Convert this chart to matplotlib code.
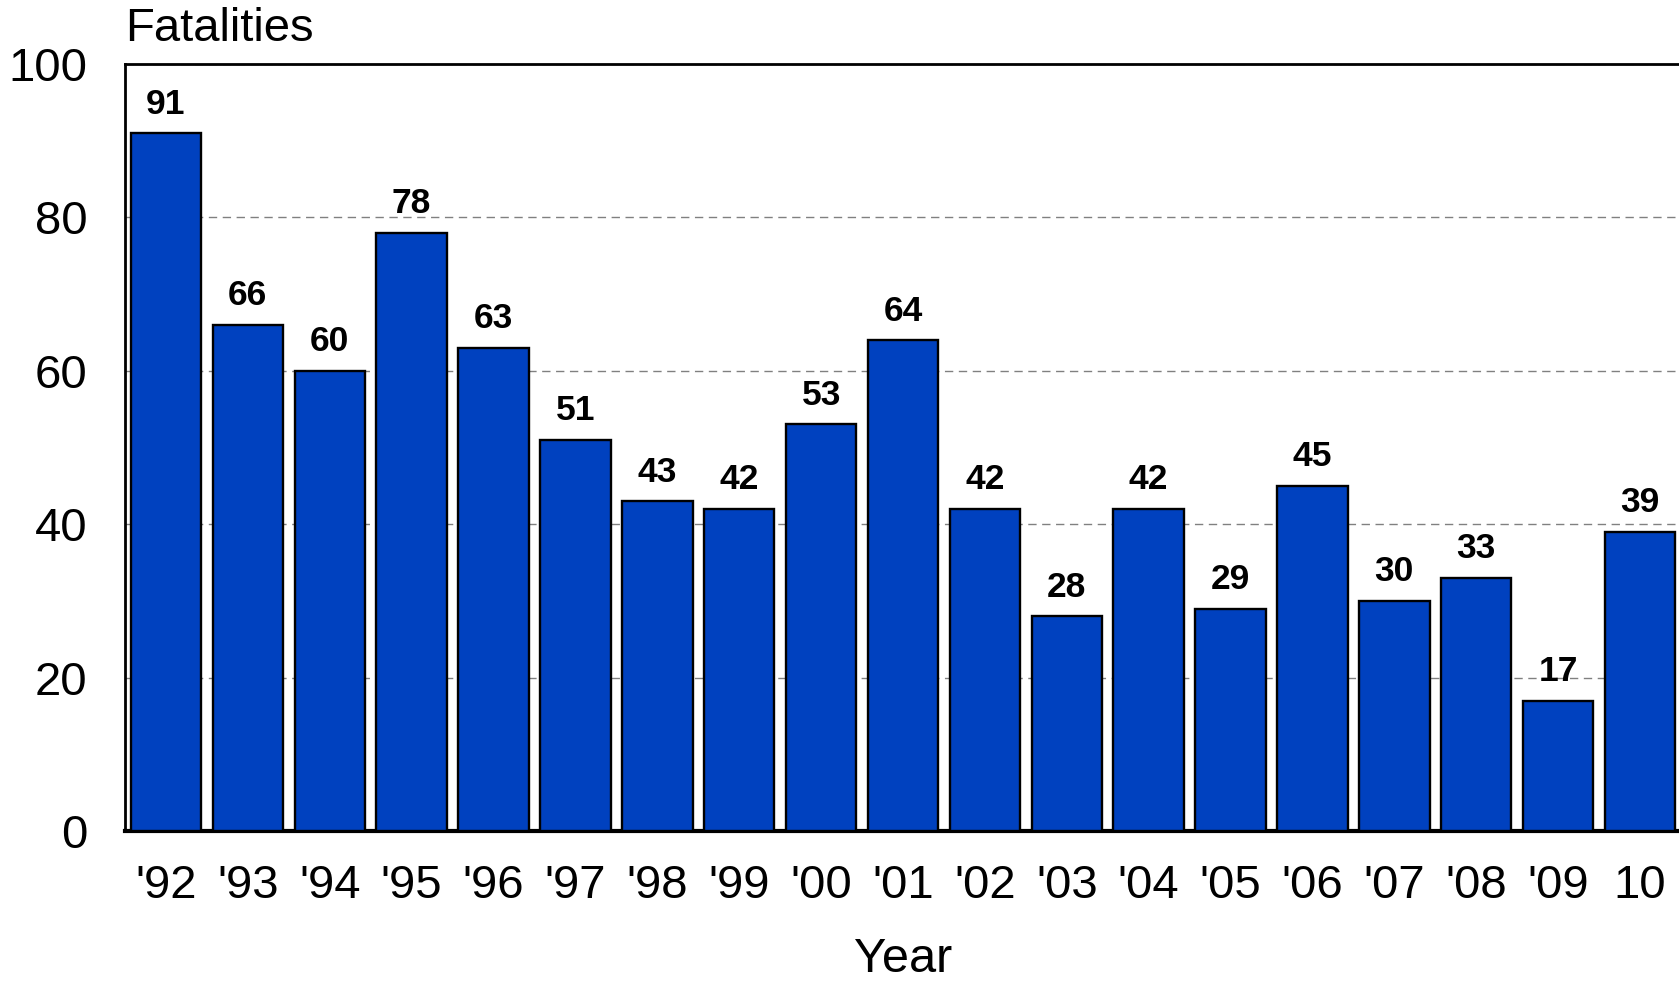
import matplotlib
matplotlib.use("Agg")
import matplotlib.pyplot as plt

years = ["'92", "'93", "'94", "'95", "'96", "'97", "'98", "'99", "'00", "'01",
         "'02", "'03", "'04", "'05", "'06", "'07", "'08", "'09", "10"]
fatalities = [91, 66, 60, 78, 63, 51, 43, 42, 53, 64, 42, 28, 42, 29, 45, 30, 33, 17, 39]
yticks = [0, 20, 40, 60, 80, 100]

plt.rcParams['font.family'] = ['Liberation Sans', 'DejaVu Sans']

fig = plt.figure(figsize=(16.79, 9.83), dpi=100)
ax = fig.add_axes([125/1679, 1 - 831/983, 1556/1679, (831 - 64)/983])

x = list(range(len(years)))
bars = ax.bar(x, fatalities, width=0.86, color='#0041BF', edgecolor='black',
              linewidth=1.7, zorder=3)
for xi, v in zip(x, fatalities):
    ax.annotate(str(v), (xi, v), xytext=(0, 9), textcoords='offset points',
                ha='center', va='bottom', fontsize=25.5, fontweight='bold')

ax.set_xlim(-0.5, len(years) - 0.5)
ax.set_ylim(0, 100)
ax.set_yticks(yticks)
ax.set_yticklabels([str(t) for t in yticks], fontsize=34)
ax.set_xticks(x)
ax.set_xticklabels(years, fontsize=34)
ax.tick_params(axis='both', length=0)
ax.tick_params(axis='x', pad=24)
ax.tick_params(axis='y', pad=27)
ax.yaxis.grid(True, linestyle=(0, (6, 4)), color='#808080', linewidth=1.0, zorder=0)
ax.set_axisbelow(True)
for side in ['left', 'top', 'bottom']:
    ax.spines[side].set_color('black')
    ax.spines[side].set_linewidth(2)
ax.spines['bottom'].set_linewidth(3)
ax.spines['right'].set_visible(False)

ax.set_xlabel('Year', fontsize=35, va='baseline')
ax.xaxis.set_label_coords(0.5, (831 - 972) / 767)
fig.text(125/1679, 1 - 29/983, 'Fatalities', fontsize=34, ha='left', va='center')

fig.savefig('out.png', dpi=100)
